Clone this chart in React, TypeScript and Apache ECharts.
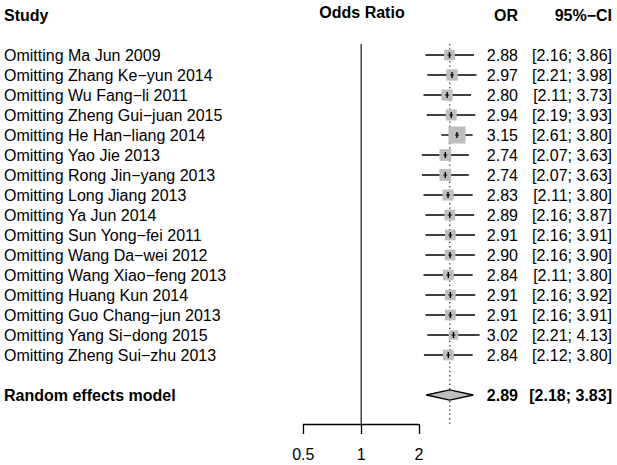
import React, { useEffect, useRef } from "react";
import * as echarts from "echarts";

// ---------- data ----------
const studies = [
  "Omitting Ma Jun 2009",
  "Omitting Zhang Ke−yun 2014",
  "Omitting Wu Fang−li 2011",
  "Omitting Zheng Gui−juan 2015",
  "Omitting He Han−liang 2014",
  "Omitting Yao Jie 2013",
  "Omitting Rong Jin−yang 2013",
  "Omitting Long Jiang 2013",
  "Omitting Ya Jun 2014",
  "Omitting Sun Yong−fei 2011",
  "Omitting Wang Da−wei 2012",
  "Omitting Wang Xiao−feng 2013",
  "Omitting Huang Kun 2014",
  "Omitting Guo Chang−jun 2013",
  "Omitting Yang Si−dong 2015",
  "Omitting Zheng Sui−zhu 2013",
];
const orValues = [2.88, 2.97, 2.8, 2.94, 3.15, 2.74, 2.74, 2.83, 2.89, 2.91, 2.9, 2.84, 2.91, 2.91, 3.02, 2.84];
const ciLower = [2.16, 2.21, 2.11, 2.19, 2.61, 2.07, 2.07, 2.11, 2.16, 2.16, 2.16, 2.11, 2.16, 2.16, 2.21, 2.12];
const ciUpper = [3.86, 3.98, 3.73, 3.93, 3.8, 3.63, 3.63, 3.8, 3.87, 3.91, 3.9, 3.8, 3.92, 3.91, 4.13, 3.8];
const weights = [1.0, 1.05, 1.05, 1.03, 1.6, 1.1, 1.1, 1.03, 1.0, 1.0, 1.0, 1.0, 1.0, 1.0, 0.88, 1.0];

const pooledLabel = "Random effects model";
const pooledOR = 2.89;
const pooledLower = 2.18;
const pooledUpper = 3.83;
const nullEffect = 1;

const axisTickValues = [0.5, 1, 2];
const headers = { study: "Study", effect: "Odds Ratio", or: "OR", ci: "95%−CI" };

// ---------- layout ----------
const FONT = '"Liberation Sans", Arial, Helvetica, sans-serif';
const W = 617;
const H = 465;
const TEXT_LEFT = 4;
const OR_RIGHT = 518;
const CI_RIGHT = 612;
const BOX = 10.7;
const LINE_TOP = 44;
const LINE_BOTTOM = 424;
const POOLED_ROW = studies.length + 1;

const fmt = (v: number) => v.toFixed(2);
const ciText = (lo: number, hi: number) => `[${fmt(lo)}; ${fmt(hi)}]`;

export default function App() {
  const ref = useRef<HTMLDivElement>(null);

  useEffect(() => {
    const chart = echarts.init(ref.current!, null, { renderer: "svg" });

    const studyData = studies.map((_, i) => [orValues[i], ciLower[i], ciUpper[i], i, weights[i]]);

    const option: any = {
      animation: false,
      backgroundColor: "#ffffff",
      grid: [
        { left: 245.5, width: 289.25, top: 15, height: 440, containLabel: false },
        { left: 303.35, width: 115.7, top: 423, height: 1, containLabel: false },
      ],
      xAxis: [
        { type: "log", logBase: 2, min: 0.25, max: 8, gridIndex: 0, show: false },
        {
          type: "log",
          logBase: 2,
          min: axisTickValues[0],
          max: axisTickValues[axisTickValues.length - 1],
          gridIndex: 1,
          position: "bottom",
          axisLine: { show: true, lineStyle: { color: "#000", width: 1.3 } },
          axisTick: { show: true, length: 10, lineStyle: { color: "#000", width: 1.3 } },
          axisLabel: { show: true, color: "#000", fontSize: 16, fontFamily: FONT, margin: 22 },
          splitLine: { show: false },
          minorTick: { show: false },
        },
      ],
      yAxis: [
        { type: "value", min: -2, max: 20, inverse: true, gridIndex: 0, show: false },
        { type: "value", min: 0, max: 1, gridIndex: 1, show: false },
      ],
      graphic: [
        { type: "text", x: TEXT_LEFT, y: 15, style: { text: headers.study, font: `bold 16px ${FONT}`, fill: "#000", align: "left", verticalAlign: "middle" } },
        { type: "text", x: 362, y: 12, style: { text: headers.effect, font: `bold 16px ${FONT}`, fill: "#000", align: "center", verticalAlign: "middle" } },
        { type: "text", x: OR_RIGHT, y: 15, style: { text: headers.or, font: `bold 16px ${FONT}`, fill: "#000", align: "right", verticalAlign: "middle" } },
        { type: "text", x: CI_RIGHT, y: 15, style: { text: headers.ci, font: `bold 16px ${FONT}`, fill: "#000", align: "right", verticalAlign: "middle" } },
      ],
      series: [
        {
          type: "custom",
          name: "reference lines",
          xAxisIndex: 0,
          yAxisIndex: 0,
          clip: false,
          silent: true,
          data: [[nullEffect, 0], [pooledOR, 0]],
          encode: { x: 0, y: 1 },
          renderItem: (params: any, api: any) => {
            const x = api.coord([api.value(0), 0])[0];
            const dotted = params.dataIndex === 1;
            return {
              type: "line",
              shape: { x1: x, y1: LINE_TOP, x2: x, y2: LINE_BOTTOM },
              style: dotted
                ? { stroke: "#222", lineWidth: 1.2, lineDash: [1.3, 3] }
                : { stroke: "#444", lineWidth: 1.5 },
            };
          },
        },
        {
          type: "custom",
          name: "studies",
          xAxisIndex: 0,
          yAxisIndex: 0,
          clip: false,
          silent: true,
          data: studyData,
          encode: { x: 0, y: 3 },
          renderItem: (params: any, api: any) => {
            const i = params.dataIndex;
            const or = api.value(0);
            const lo = api.value(1);
            const hi = api.value(2);
            const row = api.value(3);
            const w = api.value(4);
            const [xo, y] = api.coord([or, row]);
            const xl = api.coord([lo, row])[0];
            const xh = api.coord([hi, row])[0];
            const s = BOX * w;
            return {
              type: "group",
              children: [
                { type: "line", shape: { x1: xl, y1: y, x2: xh, y2: y }, style: { stroke: "#000", lineWidth: 1.4 } },
                { type: "rect", shape: { x: xo - s / 2, y: y - s / 2, width: s, height: s }, style: { fill: "#bebebe" } },
                { type: "line", shape: { x1: xo, y1: y - 3, x2: xo, y2: y + 3 }, style: { stroke: "#000", lineWidth: 1.4 } },
                { type: "line", shape: { x1: xo - 2, y1: y, x2: xo + 2, y2: y }, style: { stroke: "#000", lineWidth: 1 } },
                { type: "text", x: TEXT_LEFT, y, style: { text: studies[i], font: `16px ${FONT}`, fill: "#000", align: "left", verticalAlign: "middle" } },
                { type: "text", x: OR_RIGHT, y, style: { text: fmt(or), font: `16px ${FONT}`, fill: "#000", align: "right", verticalAlign: "middle" } },
                { type: "text", x: CI_RIGHT, y, style: { text: ciText(lo, hi), font: `16px ${FONT}`, fill: "#000", align: "right", verticalAlign: "middle" } },
              ],
            };
          },
        },
        {
          type: "custom",
          name: "pooled",
          xAxisIndex: 0,
          yAxisIndex: 0,
          clip: false,
          silent: true,
          data: [[pooledOR, pooledLower, pooledUpper, POOLED_ROW]],
          encode: { x: 0, y: 3 },
          renderItem: (params: any, api: any) => {
            const or = api.value(0);
            const lo = api.value(1);
            const hi = api.value(2);
            const row = api.value(3);
            const [xo, y] = api.coord([or, row]);
            const xl = api.coord([lo, row])[0];
            const xh = api.coord([hi, row])[0];
            const h = 5.2;
            return {
              type: "group",
              children: [
                {
                  type: "polygon",
                  shape: { points: [[xl, y], [xo, y - h], [xh, y], [xo, y + h]] },
                  style: { fill: "#bebebe", stroke: "#000", lineWidth: 1.3 },
                },
                { type: "text", x: TEXT_LEFT, y, style: { text: pooledLabel, font: `bold 16px ${FONT}`, fill: "#000", align: "left", verticalAlign: "middle" } },
                { type: "text", x: OR_RIGHT, y, style: { text: fmt(or), font: `bold 16px ${FONT}`, fill: "#000", align: "right", verticalAlign: "middle" } },
                { type: "text", x: CI_RIGHT, y, style: { text: ciText(lo, hi), font: `bold 16px ${FONT}`, fill: "#000", align: "right", verticalAlign: "middle" } },
              ],
            };
          },
        },
      ],
    };

    chart.setOption(option);
    return () => chart.dispose();
  }, []);

  return (
    <div style={{ position: "fixed", left: 0, top: 0, width: W, height: H, background: "#fff" }}>
      <div ref={ref} style={{ width: W, height: H }} />
    </div>
  );
}
